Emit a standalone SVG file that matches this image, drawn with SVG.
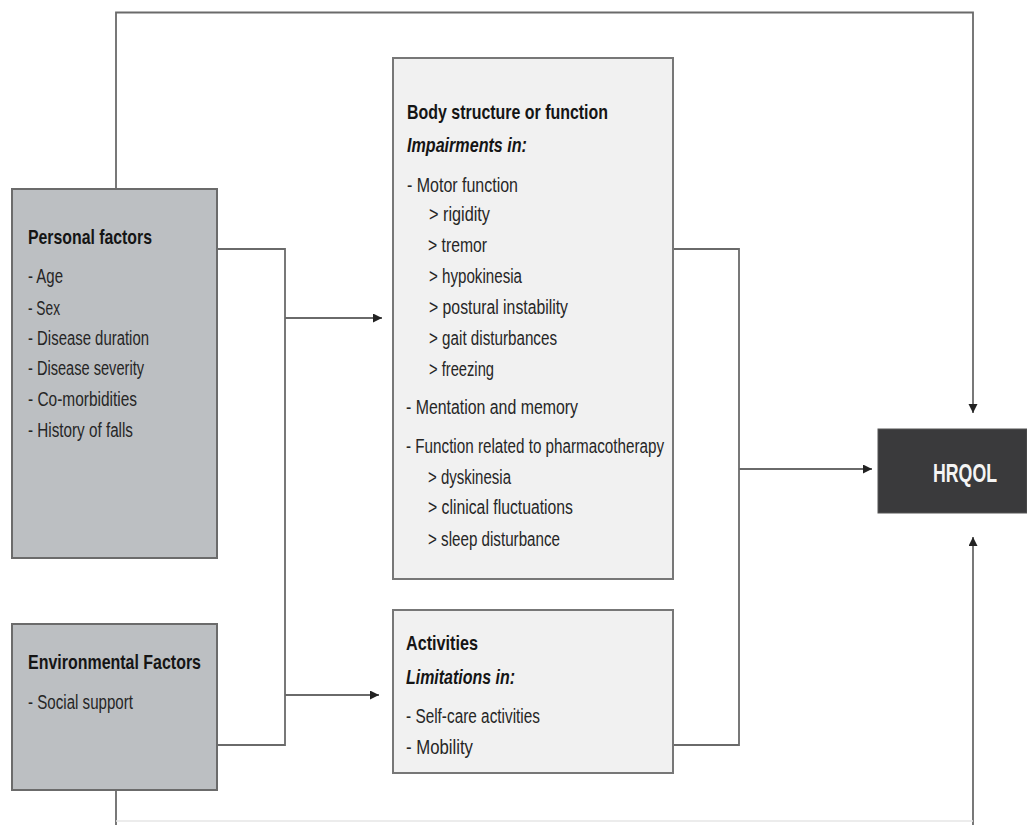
<svg xmlns="http://www.w3.org/2000/svg" width="1027" height="825" viewBox="0 0 1027 825">
<defs>
<style>
.t{font-family:"Liberation Sans",Arial,sans-serif;font-size:20px;fill:#262626}
.b{font-family:"Liberation Sans",Arial,sans-serif;font-size:21px;font-weight:bold;fill:#151515}
.bi{font-family:"Liberation Sans",Arial,sans-serif;font-size:21px;font-weight:bold;font-style:italic;fill:#151515}
.gray{fill:#bcbfc2;stroke:#6b6b6b;stroke-width:2}
.light{fill:#f1f1f1;stroke:#777;stroke-width:2}
.dark{fill:#3a3a3c;stroke:#555;stroke-width:1}
.c{fill:none;stroke:#6a6a6a;stroke-width:1.8}
.cf{fill:none;stroke:#e6e6e6;stroke-width:1.5}
</style>
<marker id="ah" markerUnits="userSpaceOnUse" markerWidth="10" markerHeight="10" refX="9" refY="4.5" orient="auto">
<path d="M0,0 L9,4.5 L0,9 z" fill="#222"/>
</marker>
</defs>
<rect width="1027" height="825" fill="#ffffff"/>

<g id="connectors">
<polyline class="c" points="116,189 116,12.5 973,12.5 973,413" marker-end="url(#ah)"/>
<polyline class="c" points="217,249 285,249 285,745 217,745"/>
<line class="c" x1="285" y1="318" x2="382" y2="318" marker-end="url(#ah)"/>
<line class="c" x1="285" y1="695" x2="379" y2="695" marker-end="url(#ah)"/>
<polyline class="c" points="673,249 739,249 739,745 673,745"/>
<line class="c" x1="739" y1="469" x2="872" y2="469" marker-end="url(#ah)"/>
<line class="c" x1="116" y1="790" x2="116" y2="825"/>
<line class="c" x1="973" y1="825" x2="973" y2="537" marker-end="url(#ah)"/>
<line class="cf" x1="116" y1="821" x2="973" y2="821"/>
</g>

<g id="personal">
<rect class="gray" x="12" y="189" width="205" height="369"/>
<text class="b" x="28" y="244" textLength="124" lengthAdjust="spacingAndGlyphs">Personal factors</text>
<text class="t" x="28" y="283" textLength="35" lengthAdjust="spacingAndGlyphs">- Age</text>
<text class="t" x="28" y="315" textLength="32" lengthAdjust="spacingAndGlyphs">- Sex</text>
<text class="t" x="28" y="345" textLength="121" lengthAdjust="spacingAndGlyphs">- Disease duration</text>
<text class="t" x="28" y="375" textLength="116" lengthAdjust="spacingAndGlyphs">- Disease severity</text>
<text class="t" x="28" y="406" textLength="109" lengthAdjust="spacingAndGlyphs">- Co-morbidities</text>
<text class="t" x="28" y="437" textLength="105" lengthAdjust="spacingAndGlyphs">- History of falls</text>
</g>

<g id="environmental">
<rect class="gray" x="12" y="624" width="205" height="166"/>
<text class="b" x="28" y="669" textLength="173" lengthAdjust="spacingAndGlyphs">Environmental Factors</text>
<text class="t" x="28" y="709" textLength="105" lengthAdjust="spacingAndGlyphs">- Social support</text>
</g>

<g id="body">
<rect class="light" x="393" y="58" width="280" height="521"/>
<text class="b" x="407" y="119" textLength="201" lengthAdjust="spacingAndGlyphs">Body structure or function</text>
<text class="bi" x="407" y="152" textLength="120" lengthAdjust="spacingAndGlyphs">Impairments in:</text>
<text class="t" x="407" y="192" textLength="111" lengthAdjust="spacingAndGlyphs">- Motor function</text>
<text class="t" x="429" y="221" textLength="61" lengthAdjust="spacingAndGlyphs">&gt; rigidity</text>
<text class="t" x="428" y="252" textLength="59" lengthAdjust="spacingAndGlyphs">&gt; tremor</text>
<text class="t" x="429" y="283" textLength="93" lengthAdjust="spacingAndGlyphs">&gt; hypokinesia</text>
<text class="t" x="429" y="314" textLength="139" lengthAdjust="spacingAndGlyphs">&gt; postural instability</text>
<text class="t" x="429" y="345" textLength="128" lengthAdjust="spacingAndGlyphs">&gt; gait disturbances</text>
<text class="t" x="429" y="376" textLength="65" lengthAdjust="spacingAndGlyphs">&gt; freezing</text>
<text class="t" x="406" y="414" textLength="172" lengthAdjust="spacingAndGlyphs">- Mentation and memory</text>
<text class="t" x="406" y="453" textLength="258" lengthAdjust="spacingAndGlyphs">- Function related to pharmacotherapy</text>
<text class="t" x="428" y="484" textLength="83" lengthAdjust="spacingAndGlyphs">&gt; dyskinesia</text>
<text class="t" x="428" y="514" textLength="145" lengthAdjust="spacingAndGlyphs">&gt; clinical fluctuations</text>
<text class="t" x="428" y="546" textLength="132" lengthAdjust="spacingAndGlyphs">&gt; sleep disturbance</text>
</g>

<g id="activities">
<rect class="light" x="393" y="610" width="280" height="163"/>
<text class="b" x="406" y="650" textLength="72" lengthAdjust="spacingAndGlyphs">Activities</text>
<text class="bi" x="406" y="684" textLength="109" lengthAdjust="spacingAndGlyphs">Limitations in:</text>
<text class="t" x="406" y="723" textLength="134" lengthAdjust="spacingAndGlyphs">- Self-care activities</text>
<text class="t" x="406" y="754" textLength="67" lengthAdjust="spacingAndGlyphs">- Mobility</text>
</g>

<g id="hrqol">
<rect class="dark" x="878" y="429" width="149" height="84"/>
<text x="933" y="482" textLength="64" lengthAdjust="spacingAndGlyphs" style="font-family:'Liberation Sans',Arial,sans-serif;font-size:26px;font-weight:bold;fill:#f4f4f4">HRQOL</text>
</g>
</svg>
